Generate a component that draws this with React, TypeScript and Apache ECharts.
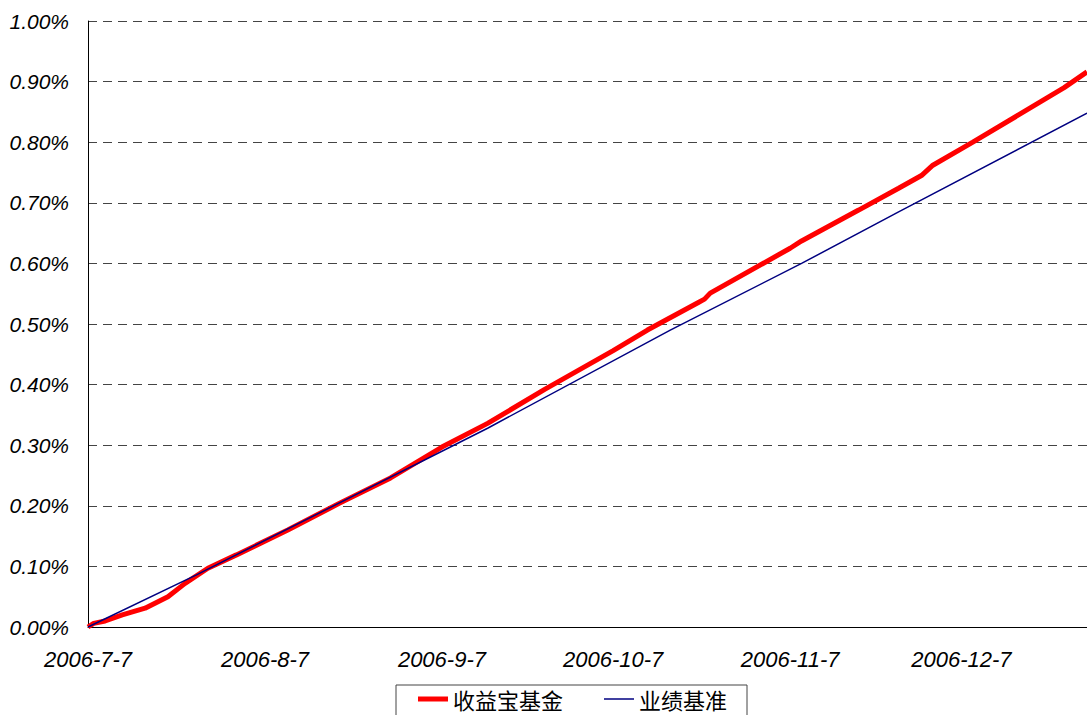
import React, { useEffect, useRef } from "react";
import * as echarts from "echarts";

// Category days (calendar) on the x axis
const startDate = new Date(2006, 6, 7);
const endDate = new Date(2006, 11, 29);
const categories: string[] = [];
for (let d = new Date(startDate); d <= endDate; d.setDate(d.getDate() + 1)) {
  categories.push(`${d.getFullYear()}-${d.getMonth() + 1}-${d.getDate()}`);
}

const yTicks = [0, 0.1, 0.2, 0.3, 0.4, 0.5, 0.6, 0.7, 0.8, 0.9, 1.0];

const fundName = "收益宝基金";
const fundDates = [
  "2006-7-7", "2006-7-8", "2006-7-10", "2006-7-13", "2006-7-17", "2006-7-21",
  "2006-7-24", "2006-7-28", "2006-8-2", "2006-8-11", "2006-8-20", "2006-8-29",
  "2006-9-7", "2006-9-15", "2006-9-25", "2006-10-7", "2006-10-13", "2006-10-22",
  "2006-10-23", "2006-10-24", "2006-11-7", "2006-11-9", "2006-11-19", "2006-11-26",
  "2006-11-30", "2006-12-2", "2006-12-9", "2006-12-25", "2006-12-29",
];
const fundValues = [
  0, 0.006, 0.010, 0.020, 0.031, 0.050,
  0.072, 0.097, 0.119, 0.160, 0.204, 0.246,
  0.297, 0.336, 0.392, 0.456, 0.490, 0.536,
  0.541, 0.551, 0.625, 0.637, 0.688, 0.724,
  0.745, 0.762, 0.800, 0.890, 0.916,
];

const benchName = "业绩基准";
const benchDates = ["2006-7-7", "2006-7-26", "2006-9-15", "2006-10-17", "2006-11-9", "2006-11-26", "2006-12-29"];
const benchValues = [0, 0.086, 0.328, 0.49, 0.60, 0.685, 0.848];

export default function App() {
  const ref = useRef<HTMLDivElement>(null);
  useEffect(() => {
    if (!ref.current) return;
    const chart = echarts.init(ref.current, undefined, { renderer: "svg" });
    const labelFont = {
      fontFamily: "'Liberation Sans', Arial, sans-serif",
      fontStyle: "italic" as const,
      color: "#000",
    };
    chart.setOption({
      animation: false,
      backgroundColor: "#fff",
      grid: { left: 88, top: 21, right: 0, bottom: 88, containLabel: false },
      xAxis: {
        type: "category",
        data: categories,
        boundaryGap: false,
        axisLine: { show: true, lineStyle: { color: "#000", width: 1 } },
        axisTick: { show: false },
        splitLine: { show: false },
        axisLabel: {
          ...labelFont,
          fontSize: 22,
          margin: 21,
          interval: (_i: number, v: string) => v.split("-")[2] === "7",
        },
      },
      yAxis: {
        type: "value",
        min: 0,
        max: 1,
        interval: 0.1,
        axisLine: { show: true, lineStyle: { color: "#000", width: 1 } },
        axisTick: { show: false },
        splitLine: { show: true, lineStyle: { color: "#444", type: [9, 6], width: 1 } },
        axisLabel: {
          ...labelFont,
          fontSize: 21,
          margin: 19,
          formatter: (v: number) => {
            const t = yTicks.find((x) => Math.abs(x - v) < 1e-9);
            return (t !== undefined ? t : v).toFixed(2) + "%";
          },
        },
      },
      legend: {
        left: 396,
        top: 685,
        orient: "horizontal",
        padding: [3, 20, 20, 22],
        borderColor: "#444",
        borderWidth: 1,
        itemWidth: 30,
        itemHeight: 14,
        itemGap: 41,
        symbolKeepAspect: true,
        textStyle: {
          fontFamily: "'Noto Sans CJK SC', sans-serif",
          fontSize: 22,
          lineHeight: 22,
          color: "#000",
        },
        data: [
          { name: fundName, icon: "path://M0,0H30V5H0Z", itemStyle: { color: "#ff0000" } },
          { name: benchName, icon: "path://M0,0H30V1.5H0Z", itemStyle: { color: "#000080" } },
        ],
      },
      series: [
        {
          name: fundName,
          type: "line",
          data: fundDates.map((d, i) => [d, fundValues[i]]),
          showSymbol: false,
          symbol: "none",
          smooth: false,
          lineStyle: { color: "#ff0000", width: 5 },
          itemStyle: { color: "#ff0000" },
        },
        {
          name: benchName,
          type: "line",
          data: benchDates.map((d, i) => [d, benchValues[i]]),
          showSymbol: false,
          symbol: "none",
          lineStyle: { color: "#000080", width: 1.5 },
          itemStyle: { color: "#000080" },
        },
      ],
    });
    return () => chart.dispose();
  }, []);
  return (
    <div
      ref={ref}
      style={{ position: "fixed", left: 0, top: 0, width: 1087, height: 715 }}
    />
  );
}
